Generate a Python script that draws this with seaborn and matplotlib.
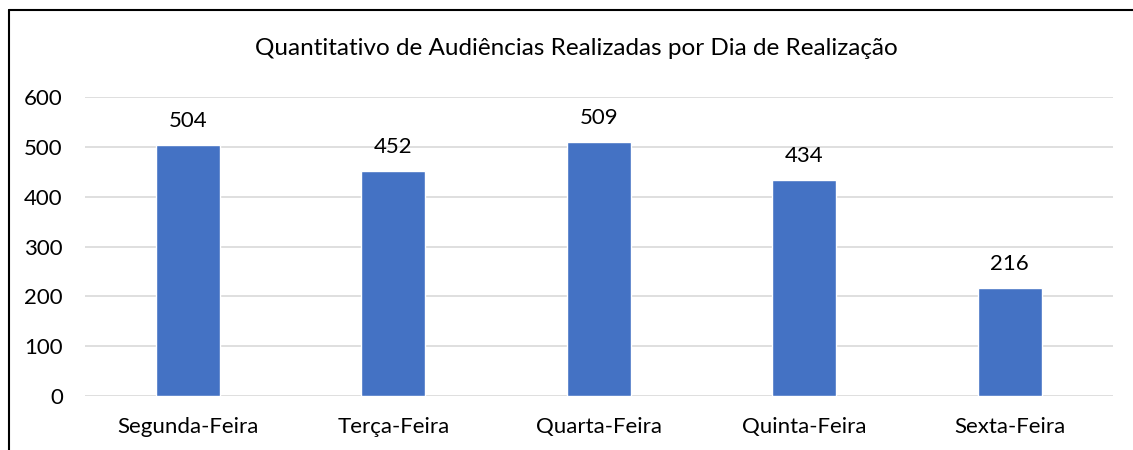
import matplotlib
matplotlib.use("Agg")
import matplotlib.pyplot as plt
import seaborn as sns
import pandas as pd
from matplotlib.lines import Line2D

# dados do gráfico
dias = ["Segunda-Feira", "Terça-Feira", "Quarta-Feira", "Quinta-Feira", "Sexta-Feira"]
audiencias = [504, 452, 509, 434, 216]
yticks = [0, 100, 200, 300, 400, 500, 600]

df = pd.DataFrame({"dia": dias, "qtd": audiencias})

sns.set_theme(style="white")
plt.rcParams["font.family"] = ["Lato", "DejaVu Sans"]

fig = plt.figure(figsize=(11.33, 4.5), dpi=100)
ax = fig.add_axes([0.075, 0.12, 0.907, 0.6644])

sns.barplot(data=df, x="dia", y="qtd", color="#4472C4", width=0.31,
            saturation=1, ax=ax, zorder=3)

ax.set_ylim(0, 600)
ax.set_yticks(yticks)
ax.yaxis.grid(True, color="#d9d9d9", linewidth=1.2, zorder=0)
ax.set_axisbelow(True)
for s in ax.spines.values():
    s.set_visible(False)
ax.tick_params(axis="both", length=0, labelsize=16, colors="black")
ax.tick_params(axis="y", pad=16)
ax.tick_params(axis="x", pad=15)
ax.set_xlabel("")
ax.set_ylabel("")

ax.bar_label(ax.containers[0], padding=10, fontsize=16, color="black")

fig.text(0.509, 0.893, "Quantitativo de Audiências Realizadas por Dia de Realização",
         ha="center", va="center", fontsize=17.5, color="black")

# moldura (só esquerda e topo aparecem)
fig.add_artist(Line2D([9 / 1133, 9 / 1133], [0, 1 - 10 / 450], color="black", linewidth=1.5))
fig.add_artist(Line2D([9 / 1133, 1], [1 - 10 / 450, 1 - 10 / 450], color="black", linewidth=1.5))

fig.savefig("out.png", dpi=100)
